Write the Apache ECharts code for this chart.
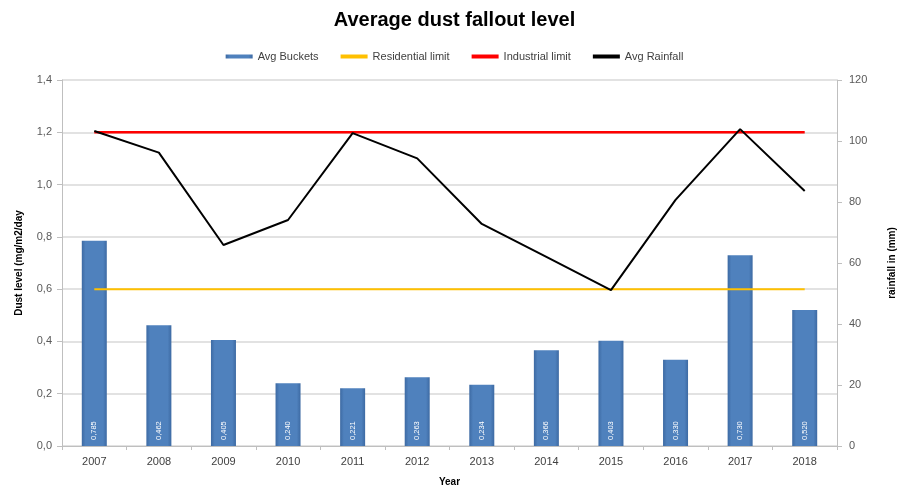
<!DOCTYPE html>
<html>
<head>
<meta charset="utf-8">
<script src="https://cdn.jsdelivr.net/npm/echarts@6/dist/echarts.min.js"></script>
<style>html,body{margin:0;padding:0;background:#fff}#c{width:909px;height:488px}</style>
</head>
<body>
<div id="c"></div>
<script>
var years = ['2007','2008','2009','2010','2011','2012','2013','2014','2015','2016','2017','2018'];
var avgBuckets = [0.785,0.462,0.405,0.240,0.221,0.263,0.234,0.366,0.403,0.330,0.730,0.520];
var residentialLimit = [0.6,0.6,0.6,0.6,0.6,0.6,0.6,0.6,0.6,0.6,0.6,0.6];
var industrialLimit = [1.2,1.2,1.2,1.2,1.2,1.2,1.2,1.2,1.2,1.2,1.2,1.2];
var avgRainfall = [103.3,96.2,65.9,74.1,102.6,94.3,72.8,62.0,51.1,80.7,103.9,83.6];

var fontFam = '"Liberation Sans", Arial, sans-serif';
var chart = echarts.init(document.getElementById('c'), null, {renderer:'canvas'});
chart.setOption({
  animation: false,
  backgroundColor: '#ffffff',
  textStyle: {fontFamily: fontFam},
  title: {
    text: 'Average dust fallout level',
    left: 'center', top: 5,
    textStyle: {fontSize: 20, fontWeight: 'bold', color: '#000', fontFamily: fontFam}
  },
  legend: {
    top: 46, left: 'center',
    itemWidth: 27, itemHeight: 4, itemGap: 22,
    textStyle: {fontSize: 11, color: '#404040'},
    data: [
      {name: 'Avg Buckets', icon: 'rect'},
      {name: 'Residential limit', icon: 'rect'},
      {name: 'Industrial limit', icon: 'rect'},
      {name: 'Avg Rainfall', icon: 'rect'}
    ]
  },
  grid: {left: 62, right: 72, top: 80, bottom: 42, outerBoundsMode: 'none', containLabel: false},
  xAxis: {
    type: 'category', data: years,
    name: 'Year', nameLocation: 'middle', nameGap: 31,
    nameTextStyle: {fontSize: 10, fontWeight: 'bold', color: '#000'},
    axisLine: {lineStyle: {color: '#BFBFBF', width: 1}},
    axisTick: {show: true, alignWithLabel: false, length: 4, lineStyle: {color: '#BFBFBF'}},
    axisLabel: {fontSize: 11, color: '#404040', margin: 10}
  },
  yAxis: [
    {
      type: 'value', min: 0, max: 1.4, interval: 0.2,
      name: 'Dust level (mg/m2/day', nameLocation: 'middle', nameGap: 38, nameRotate: 90,
      nameTextStyle: {fontSize: 10, fontWeight: 'bold', color: '#000'},
      axisLine: {show: true, lineStyle: {color: '#BFBFBF'}},
      axisTick: {show: true, length: 5, lineStyle: {color: '#BFBFBF'}},
      axisLabel: {fontSize: 11, color: '#595959', margin: 10,
        formatter: function(v){ return v.toFixed(1).replace('.', ','); }},
      splitLine: {show: true, lineStyle: {color: '#D9D9D9', width: 1.5}}
    },
    {
      type: 'value', min: 0, max: 120, interval: 20,
      name: 'rainfall in (mm)', nameLocation: 'middle', nameGap: 50, nameRotate: 90,
      nameTextStyle: {fontSize: 10, fontWeight: 'bold', color: '#000'},
      axisLine: {show: true, lineStyle: {color: '#BFBFBF'}},
      axisTick: {show: true, length: 5, lineStyle: {color: '#BFBFBF'}},
      axisLabel: {fontSize: 11, color: '#595959', margin: 12},
      splitLine: {show: false}
    }
  ],
  series: [
    {
      name: 'Avg Buckets', type: 'bar', data: avgBuckets, yAxisIndex: 0,
      barWidth: 25,
      itemStyle: {
        color: new echarts.graphic.LinearGradient(0, 0, 1, 0, [
          {offset: 0, color: '#3D6AA3'},
          {offset: 0.15, color: '#4F81BD'},
          {offset: 0.85, color: '#4F81BD'},
          {offset: 1, color: '#3D6AA3'}
        ]),
        borderColor: '#2E5A8F', borderWidth: 0
      },
      label: {
        show: true, position: 'insideBottom', rotate: 90, distance: 6,
        align: 'left', verticalAlign: 'middle',
        fontSize: 7.5, color: '#ffffff',
        formatter: function(p){ return p.value.toFixed(3).replace('.', ','); }
      },
      z: 2
    },
    {
      name: 'Residential limit', type: 'line', data: residentialLimit, yAxisIndex: 0,
      symbol: 'none', lineStyle: {color: '#FFC000', width: 2}, itemStyle: {color: '#FFC000'}, z: 3
    },
    {
      name: 'Industrial limit', type: 'line', data: industrialLimit, yAxisIndex: 0,
      symbol: 'none', lineStyle: {color: '#FF0000', width: 2.5}, itemStyle: {color: '#FF0000'}, z: 3
    },
    {
      name: 'Avg Rainfall', type: 'line', data: avgRainfall, yAxisIndex: 1,
      symbol: 'none', lineStyle: {color: '#000000', width: 2}, itemStyle: {color: '#000000'}, z: 4
    }
  ]
});
</script>
</body>
</html>
